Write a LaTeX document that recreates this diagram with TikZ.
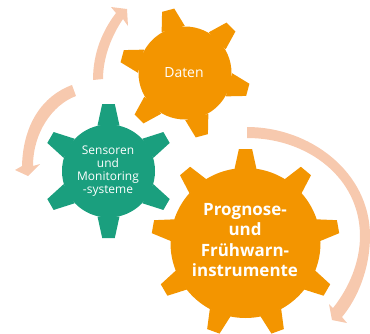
\documentclass[tikz,border=0pt]{standalone}
\usepackage{fontspec}
\setmainfont{Open Sans}
\definecolor{gearorange}{HTML}{F39500}
\definecolor{geargreen}{HTML}{1A9F7E}
\definecolor{arrowpeach}{HTML}{F7C9AE}
\newcommand{\cogwheel}[8]{% colour,cx,cy,teeth list,body r,tip r,half base,half tip
  \fill[#1] (#2,#3) circle[radius=#5];
  \foreach \a in {#4} {
    \fill[#1,shift={(#2,#3)},rotate=\a] (#5-1,-#7) -- (#6,-#8) -- (#6,#8) -- (#5-1,#7) -- cycle;
  }
}
\tikzset{
  arrowband/.style={fill=arrowpeach},
  smalllabel/.style={text=white,align=center,font=\fontsize{12}{13.2}\selectfont},
  biglabel/.style={text=white,align=center,font=\fontsize{17}{20.2}\selectfont\bfseries}
}
\begin{document}
\begin{tikzpicture}[x=1bp,y=-1bp]
\useasboundingbox (0,0) rectangle (370,334);
% arrows
\fill[arrowband] (93,80) .. controls (93,52) and (103,30) .. (116,13) -- (111,7) -- (127,9) -- (128,26) -- (123,19) .. controls (112,35) and (103,57) .. (103,79) -- cycle;
\fill[arrowband] (72,85) .. controls (42,96) and (23,125) .. (22,166) -- (15,170) -- (28,176) -- (40,164) -- (33,166) .. controls (33,133) and (52,105) .. (76,96) -- cycle;
\fill[arrowband] (247,127) .. controls (310,127) and (370,172) .. (370,236) .. controls (370,268) and (358,298) .. (342,317) -- (347,323) -- (332,320) -- (329,304) -- (333,308) .. controls (349,288) and (360,262) .. (360,236) .. controls (360,178) and (308,138) .. (247,138) -- cycle;
% gears
\cogwheel{gearorange}{185}{73}{105,45,-15,-75,-135,165}{46.5}{65}{12}{6.3}
\cogwheel{geargreen}{108.5}{171}{90,30,-30,-90,-150,150}{46.5}{67}{11}{6.3}
\cogwheel{gearorange}{245.5}{243}{90,50,10,-30,-70,-110,-150,170,130}{75}{94}{11}{6.6}
% labels
\node[smalllabel,font=\fontsize{14}{15}\selectfont] (daten) at (184,73) {Daten};
\node[smalllabel] (sensoren) at (108,171) {Sensoren\\und\\Monitoring\\-systeme};
\node[biglabel] (prognose) at (245,240) {Prognose-\\und\\Frühwarn-\\instrumente};
\end{tikzpicture}
\end{document}
